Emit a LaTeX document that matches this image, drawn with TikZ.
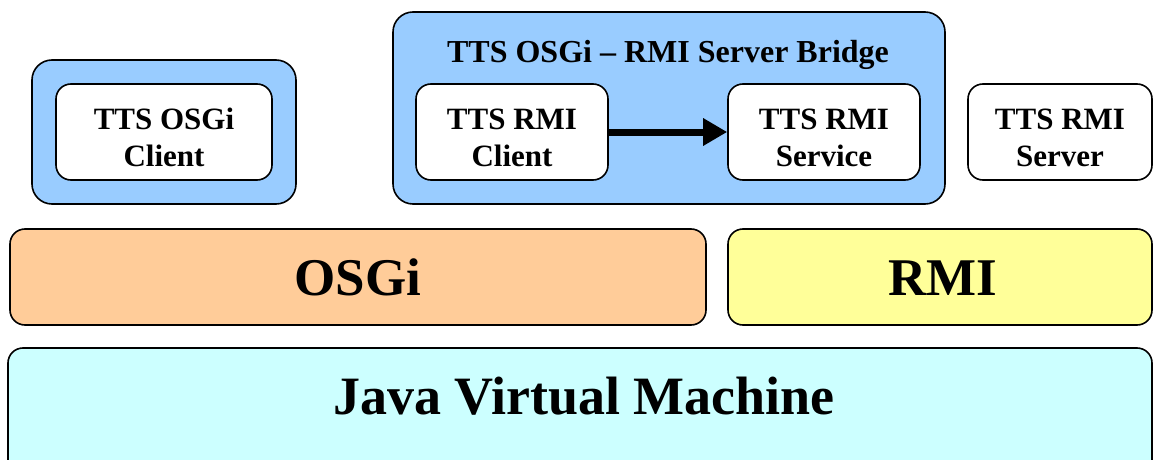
\documentclass[tikz,border=0pt]{standalone}
\usepackage{fontspec}
\setmainfont{Liberation Serif}
\usetikzlibrary{arrows.meta}
\definecolor{bridgeblue}{HTML}{99CCFF}
\definecolor{osgiorange}{HTML}{FFCC99}
\definecolor{rmiyellow}{HTML}{FFFF99}
\definecolor{jvmcyan}{HTML}{CCFFFF}
\tikzset{
  box/.style={draw=black, line width=1.6pt, rounded corners=15pt, inner sep=0pt},
  container/.style={box, fill=bridgeblue, rounded corners=20pt},
  component/.style={box, fill=white, minimum width=192pt, minimum height=96pt,
    align=center, text height=68pt, text depth=0pt,
    font=\fontsize{31}{37}\selectfont\bfseries},
  layer/.style={box, minimum height=96pt},
  bigtext/.style={font=\fontsize{53}{60}\selectfont\bfseries, inner sep=0pt},
  flow/.style={line width=7pt, -{Triangle[length=24pt,width=26pt]}}
}
\begin{document}
\begin{tikzpicture}[x=1pt,y=-1pt]
  \useasboundingbox (0,0) rectangle (1154,460);

  % OSGi client bundle
  \node[container, minimum width=264pt, minimum height=144pt] (clientbundle) at (164,132) {};
  \node[component, minimum width=216pt] (osgiclient) at (164,132) {TTS OSGi\\Client};

  % bridge bundle with its two components
  \node[container, minimum width=552pt, minimum height=192pt] (bridge) at (669,108) {};
  \node[anchor=base, inner sep=0pt, font=\fontsize{32}{38}\selectfont\bfseries] (bridgetitle)
    at (668,63) {TTS OSGi – RMI Server Bridge};
  \node[component] (rmiclient) at (512,132) {TTS RMI\\Client};
  \node[component] (rmiservice) at (824,132) {TTS RMI\\Service};
  \draw[flow] (rmiclient.east) -- (rmiservice.west);

  % standalone RMI server
  \node[component, minimum width=184pt] (rmiserver) at (1060,132) {TTS RMI\\Server};

  % middleware layers
  \node[layer, fill=osgiorange, minimum width=696pt] (osgi) at (358,277) {};
  \node[bigtext, anchor=base] (osgilabel) at (358,295) {OSGi};
  \node[layer, fill=rmiyellow, minimum width=424pt] (rmi) at (940,277) {};
  \node[bigtext, anchor=base] (rmilabel) at (943,295) {RMI};

  % virtual machine
  \node[box, fill=jvmcyan, minimum width=1144pt, minimum height=130pt] (jvm) at (580,413) {};
  \node[bigtext, anchor=base, font=\fontsize{54}{60}\selectfont\bfseries] (jvmlabel)
    at (584,414) {Java Virtual Machine};
\end{tikzpicture}
\end{document}
